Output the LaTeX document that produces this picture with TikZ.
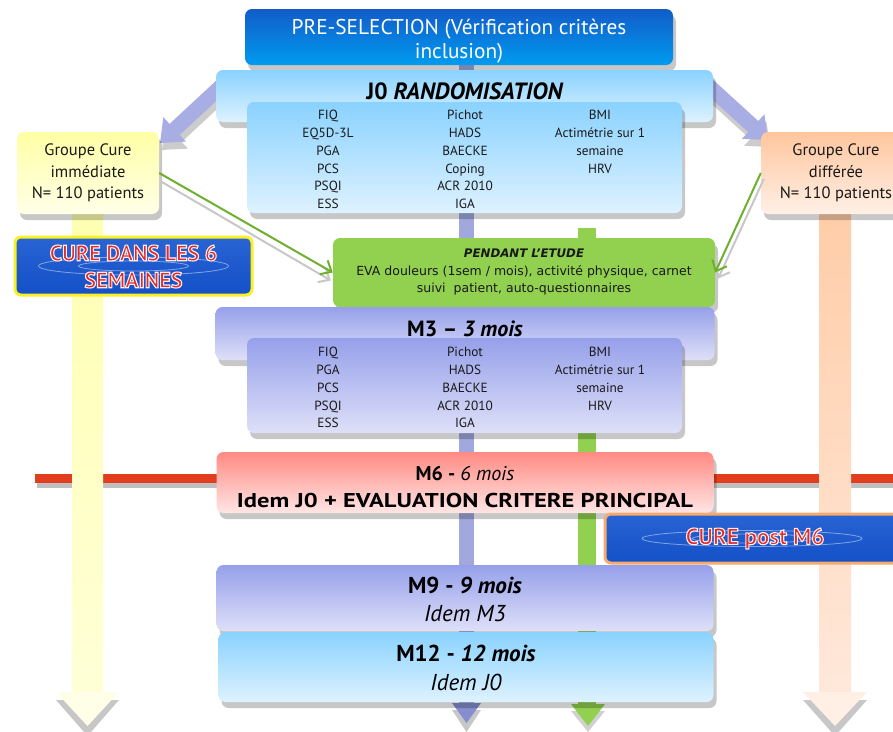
\documentclass[tikz,border=0pt]{standalone}
\usepackage{fontspec}
\usepackage{graphicx}
\setmainfont{PT Sans}
\newfontfamily\verd{DejaVu Sans}
\usetikzlibrary{shadows,arrows.meta,backgrounds,calc}
\definecolor{preT}{RGB}{18,92,200}
\definecolor{preB}{RGB}{0,155,240}
\definecolor{jT}{RGB}{138,210,255}
\definecolor{jB}{RGB}{222,242,255}
\definecolor{lavT}{RGB}{150,160,234}
\definecolor{lavB}{RGB}{222,224,248}
\definecolor{grn}{RGB}{146,208,80}
\definecolor{grnD}{RGB}{108,176,46}
\definecolor{redT}{RGB}{255,138,130}
\definecolor{redB}{RGB}{255,230,230}
\definecolor{yelT}{RGB}{255,255,165}
\definecolor{yelB}{RGB}{255,255,232}
\definecolor{pchT}{RGB}{255,198,158}
\definecolor{pchB}{RGB}{255,240,230}
\definecolor{yelBar}{RGB}{255,255,178}
\definecolor{yelBar2}{RGB}{255,255,215}
\definecolor{pchBar}{RGB}{255,205,168}
\definecolor{pchBar2}{RGB}{255,232,218}
\definecolor{lavBar}{RGB}{160,168,222}
\definecolor{lavHead}{RGB}{134,142,208}
\definecolor{diagA}{RGB}{168,174,228}
\definecolor{redLine}{RGB}{226,62,30}
\definecolor{wT}{RGB}{40,100,210}
\definecolor{wM}{RGB}{150,205,255}
\definecolor{wB}{RGB}{20,80,200}
\definecolor{cureR}{RGB}{225,45,45}
\definecolor{txt}{RGB}{25,25,25}
\newcommand\myfs[2]{\fontsize{#1}{#2}\selectfont}
\newcommand\outl[1]{\special{pdf:literal direct 2 Tr 1 0.93 0.93 RG 0.88 0.17 0.17 rg 1.1 w}#1\special{pdf:literal direct 0 Tr}}
\begin{document}
\begin{tikzpicture}[x=1pt,y=-1pt,
  bx/.style={rounded corners=7pt, inner sep=0pt, align=center, draw=none},
  shd/.style={drop shadow={shadow xshift=3pt,shadow yshift=-6pt,fill=black,opacity=0.22}},
  coltxt/.style={inner sep=0pt, align=center, anchor=north, text=txt, font=\myfs{13.3}{17.8}},
  ttl/.style={inner sep=0pt, align=center, text=black},
  water/.style={rounded corners=6pt, inner sep=0pt, align=center, top color=wT, middle color=wM, bottom color=wB, line width=3pt},
  ripple/.style={draw=white, opacity=0.45, line width=0.8pt},
  grnarrow/.style={draw=grnD, line width=2pt, -{Straight Barb[length=9pt,width=16pt]}},
  grnshadow/.style={draw=black!22, line width=2pt, -{Straight Barb[length=9pt,width=16pt]}},
  diag/.style={draw=diagA, line width=15pt, -{Triangle[width=32pt,length=20pt]}},
  diagshd/.style={draw=black!20, line width=15pt, -{Triangle[width=32pt,length=20pt]}}
]
\useasboundingbox (0,0) rectangle (893,731);

% ---------- boxes ----------
\node[bx, shd, minimum width=428pt, minimum height=56pt, top color=preT, bottom color=preB] (pre) at (459,37) {};
\node[ttl, text=white, font=\myfs{21.3}{24}] (pret) at (459,41.5) {PRE-SELECTION (Vérification critères\\inclusion)};

\node[bx, shd, minimum width=497pt, minimum height=52pt, top color=jT, bottom color=jB] (j0) at (464.5,96) {};
\node[ttl, font=\myfs{23.5}{26}\bfseries] (j0t) at (465,91) {J0 \textit{RANDOMISATION}};
\node[bx, shd, minimum width=435pt, minimum height=111pt, top color=jT, bottom color=jB] (j0i) at (464.5,157.5) {};
\node[coltxt] (j0c1) at (328,107) {\strut FIQ\\EQ5D-3L\\PGA\\PCS\\PSQI\\ESS};
\node[coltxt] (j0c2) at (465,107) {\strut Pichot\\HADS\\BAECKE\\Coping\\ACR 2010\\IGA};
\node[coltxt] (j0c3) at (600,107) {\strut BMI\\Actimétrie sur 1\\semaine\\HRV};

\node[bx, shd, minimum width=142pt, minimum height=82pt, top color=yelT, bottom color=yelB,
      text=txt, font=\myfs{16.5}{21.5}] (gci) at (88,173) {Groupe Cure\\immédiate\\N= 110 patients};
\node[bx, shd, minimum width=150pt, minimum height=82pt, top color=pchT, bottom color=pchB,
      text=txt, font=\myfs{16.5}{21.5}] (gcd) at (836,173) {Groupe Cure\\différée\\N= 110 patients};

\node[water, draw={rgb,255:red,250;green,240;blue,40}, minimum width=237pt, minimum height=58pt] (cure1) at (133.5,266) {};
\draw[ripple] (cure1.center) ellipse (95pt and 9pt);
\draw[ripple] (cure1.center) ellipse (55pt and 5pt);
\node[ttl, text=cureR, font=\myfs{22}{27}\bfseries] (cure1t) at (133.5,266.5) {\outl{CURE DANS LES 6}\\\outl{SEMAINES}};

\node[bx, shd, minimum width=382pt, minimum height=69pt, fill=grn] (pend) at (524,272.5) {};
\node[ttl, text=txt, font=\verd\myfs{12.5}{17.5}] (pendt) at (524,272) {{\myfs{11.8}{17.5}\bfseries\itshape PENDANT L’ETUDE}\\EVA douleurs (1sem / mois), activité physique, carnet\\suivi\ \ patient, auto-questionnaires};

\node[bx, shd, minimum width=499pt, minimum height=53pt, top color=lavT, bottom color=lavB] (m3) at (465,333.5) {};
\node[ttl, font=\myfs{22}{24}\bfseries] (m3t) at (465,329) {M3 – \textit{3 mois}};
\node[bx, shd, minimum width=435pt, minimum height=95pt, top color=lavT, bottom color=lavB] (m3i) at (464.5,385.5) {};
\node[coltxt] (m3c1) at (328,344) {\strut FIQ\\PGA\\PCS\\PSQI\\ESS};
\node[coltxt] (m3c2) at (465,344) {\strut Pichot\\HADS\\BAECKE\\ACR 2010\\IGA};
\node[coltxt] (m3c3) at (600,344) {\strut BMI\\Actimétrie sur 1\\semaine\\HRV};

\node[bx, shd, minimum width=497pt, minimum height=61pt, top color=redT, bottom color=redB] (m6) at (465,482.5) {};
\node[ttl, font=\myfs{20}{27}] (m6t) at (465,487) {\textbf{M6 - }\textit{6 mois}\\\resizebox{456pt}{\height}{\textbf{Idem J0 + EVALUATION CRITERE PRINCIPAL}}};

\node[water, draw={rgb,255:red,246;green,170;blue,110}, minimum width=294pt, minimum height=49pt] (cure2) at (752,538.5) {};
\draw[ripple] (cure2.center) ellipse (110pt and 8pt);
\draw[ripple] (cure2.center) ellipse (60pt and 4.5pt);
\node[ttl, text=cureR, font=\myfs{23}{27}\bfseries] (cure2t) at (755,538.5) {\outl{CURE post M6}};

\node[bx, shd, minimum width=497pt, minimum height=66pt, top color=lavT, bottom color=lavB] (m9) at (465,598) {};
\node[ttl, font=\myfs{23}{28}] (m9t) at (465,599) {\textbf{M9 - \textit{9 mois}}\\\textit{Idem M3}};

\node[bx, shd, minimum width=495pt, minimum height=70pt, top color=jT, bottom color=jB] (m12) at (466,667) {};
\node[ttl, font=\myfs{23}{29}] (m12t) at (466,668) {\textbf{M12 - \textit{12 mois}}\\\textit{Idem J0}};

% ---------- green arrows ----------
\draw[grnshadow] ($(gci.east)+(1,8)$) -- ($(pend.west)+(-2,8)$);
\draw[grnarrow] (gci.east) -- (pend.west);
\draw[grnshadow] ($(gcd.west)+(3,6)$) -- ($(pend.east)+(3,6)$);
\draw[grnarrow] (gcd.west) -- (pend.east);

% ---------- background: line, bars, diagonal arrows ----------
\begin{pgfonlayer}{background}
  \coordinate (rl1) at (35,478);
  \coordinate (rl2) at (900,478);
  \draw[line width=9pt, draw=black!25] ($(rl1)+(2,5)$) -- ($(rl2)+(2,5)$);
  \draw[line width=9pt, draw=redLine] (rl1) -- (rl2);

  % yellow bar
  \shade[top color=yelBar, bottom color=yelBar2] (72,214) rectangle (103,692);
  \fill[black!22] (56,700) -- (119,700) -- (87.5,736) -- cycle;
  \fill[yelBar2!60!white] (56,692) -- (119,692) -- (87.5,726) -- cycle;
  % peach bar
  \shade[top color=pchBar, bottom color=pchBar2] (819,214) rectangle (851,692);
  \fill[black!22] (803,700) -- (867,700) -- (835,736) -- cycle;
  \fill[pchBar2!70!white] (803,692) -- (867,692) -- (835,726) -- cycle;
  % lavender centre bar
  \coordinate (ltop) at (466.5,65);
  \coordinate (lbot) at (466.5,704);
  \draw[line width=15pt, draw=lavBar] (ltop) -- (lbot);
  \fill[black!22] (452,710) -- (481,710) -- (466.5,732) -- cycle;
  \fill[lavHead] (452,703) -- (481,703) -- (466.5,723) -- cycle;
  % green bar
  \coordinate (gtop) at (587,228);
  \coordinate (gbot) at (587,705);
  \draw[line width=18pt, draw=grn] (gtop) -- (gbot);
  \fill[black!18] (571,711) -- (605,711) -- (588,732) -- cycle;
  \fill[grn] (571,704) -- (605,704) -- (588,726) -- cycle;

  % diagonal arrows
  \coordinate (dls) at (230,78);
  \coordinate (dle) at (160,143);
  \coordinate (drs) at (700,78);
  \coordinate (dre) at (768,140);
  \draw[diagshd] ($(dls)+(2,7)$) -- ($(dle)+(2,7)$);
  \draw[diag] (dls) -- (dle);
  \draw[diagshd] ($(drs)+(2,7)$) -- ($(dre)+(2,7)$);
  \draw[diag] (drs) -- (dre);
\end{pgfonlayer}
\end{tikzpicture}
\end{document}
